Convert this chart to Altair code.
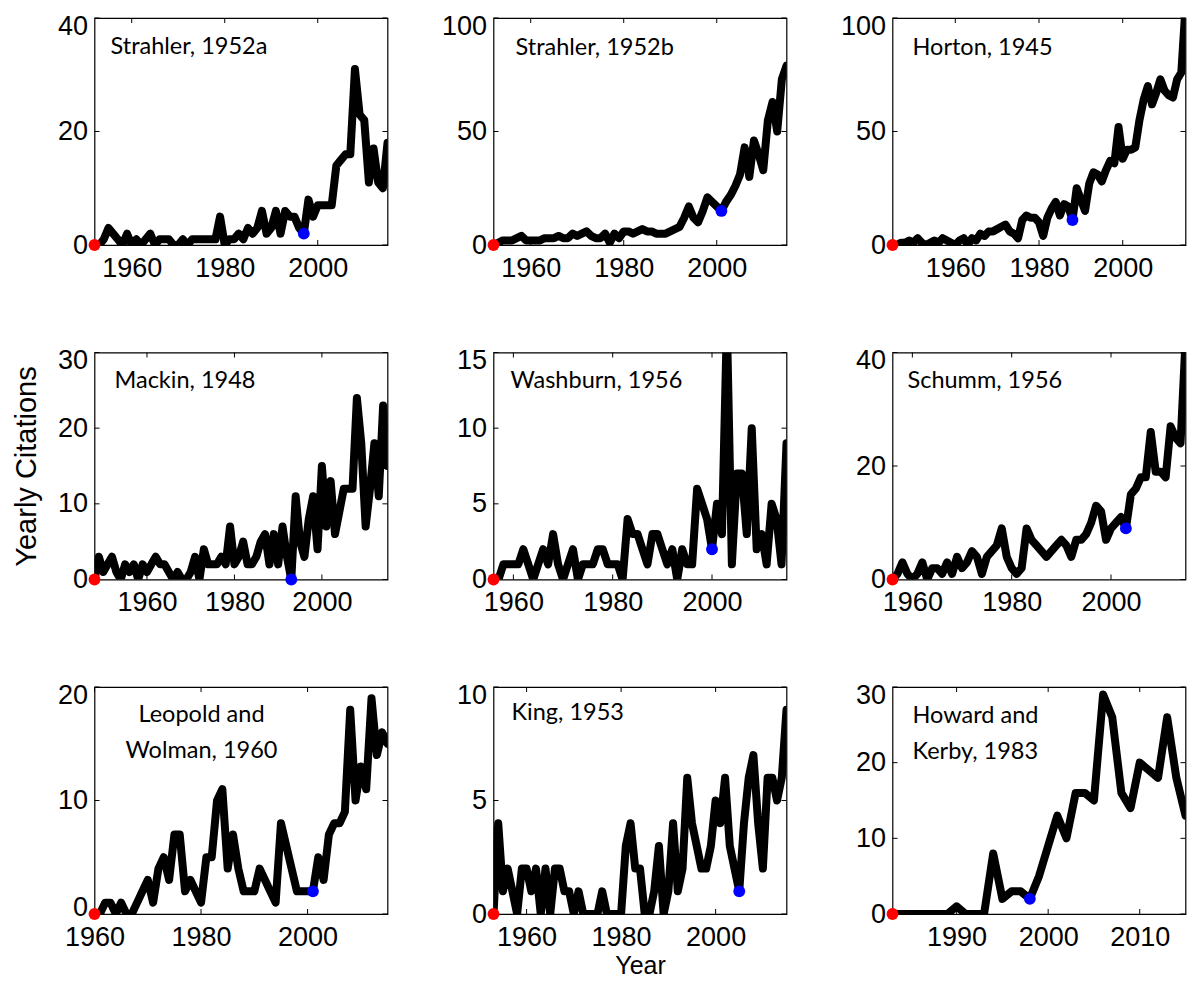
import altair as alt
import pandas as pd

# ---------------- data ----------------
TITLES = [
    "Strahler, 1952a", "Strahler, 1952b", "Horton, 1945",
    "Mackin, 1948", "Washburn, 1956", "Schumm, 1956",
    "Leopold and\nWolman, 1960", "King, 1953", "Howard and\nKerby, 1983",
]
START_YEARS = [1952, 1952, 1945, 1948, 1956, 1956, 1960, 1953, 1983]
END_YEAR = 2015
BLUE_YEARS = [1997, 2001, 1988, 1993, 2000, 2003, 2001, 2005, 1998]
Y_MAX = [40, 100, 100, 30, 15, 40, 20, 10, 30]
Y_TICKS = [[0, 20, 40], [0, 50, 100], [0, 50, 100],
           [0, 10, 20, 30], [0, 5, 10, 15], [0, 20, 40],
           [0, 10, 20], [0, 5, 10], [0, 10, 20, 30]]
X_TICKS = [[1960, 1980, 2000]] * 8 + [[1990, 2000, 2010]]

STRAHLER_1952A = [0, 0, 1, 3, 2, 1, 0, 2, 0, 1,
                  0, 1, 2, 0, 1, 1, 1, 0, 0, 1,
                  0, 1, 1, 1, 1, 1, 1, 5, 0, 1,
                  1, 2, 1, 3, 2, 3, 6, 2, 3, 6,
                  2, 6, 5, 5, 3, 2, 8, 5, 7, 7,
                  7, 7, 14, 15, 16, 16, 31, 23, 22, 11,
                  17, 11, 10, 18]
STRAHLER_1952B = [0, 1, 2, 2, 2, 3, 4, 2, 2, 2,
                  2, 3, 3, 3, 4, 3, 3, 5, 4, 5,
                  6, 4, 3, 3, 5, 1, 5, 3, 6, 6,
                  5, 6, 7, 6, 6, 5, 5, 5, 6, 7,
                  8, 12, 17, 12, 10, 15, 21, 19, 17, 15,
                  19, 22, 26, 31, 43, 30, 46, 40, 33, 55,
                  63, 50, 73, 79]
HORTON_1945 = [0, 0, 1, 1, 2, 1, 3, 1, 0, 1,
               2, 1, 3, 2, 1, 0, 2, 3, 0, 3,
               2, 5, 4, 6, 6, 7, 8, 9, 6, 5,
               3, 11, 13, 12, 12, 10, 4, 12, 16, 19,
               13, 18, 17, 11, 25, 20, 15, 27, 32, 31,
               28, 33, 37, 36, 52, 38, 42, 42, 43, 55,
               64, 70, 62, 67, 73, 68, 66, 65, 73, 76,
               105]
MACKIN_1948 = [0, 3, 1, 2, 3, 1, 0, 2, 1, 2,
               0, 2, 1, 2, 3, 2, 2, 1, 0, 1,
               0, 0, 1, 3, 0, 4, 2, 2, 2, 3,
               2, 7, 2, 3, 5, 2, 2, 3, 5, 6,
               2, 6, 2, 7, 3, 0, 11, 5, 3, 8,
               11, 4, 15, 7, 13, 6, 9, 12, 12, 12,
               24, 18, 7, 12, 18, 11, 23, 15]
WASHBURN_1956 = [0, 0, 1, 1, 1, 1, 2, 1, 0, 1,
                 2, 1, 3, 1, 0, 1, 2, 0, 1, 1,
                 1, 2, 2, 1, 1, 1, 0, 4, 3, 3,
                 2, 1, 3, 3, 2, 1, 2, 0, 2, 1,
                 1, 6, 5, 4, 2, 5, 3, 17, 1, 7,
                 7, 3, 10, 2, 3, 1, 5, 4, 1, 9]
SCHUMM_1956 = [0, 1, 3, 1, 0, 1, 3, 0, 2, 2,
               1, 3, 1, 4, 2, 3, 5, 4, 1, 4,
               5, 6, 9, 4, 2, 1, 2, 9, 7, 6,
               5, 4, 5, 6, 7, 6, 4, 7, 7, 8,
               10, 13, 12, 7, 9, 10, 11, 9, 15, 16,
               18, 18, 26, 19, 19, 18, 27, 25, 24, 42]
LEOPOLD_WOLMAN_1960 = [0, 0, 1, 1, 0, 1, 0, 0, 1, 2,
                       3, 1, 4, 5, 3, 7, 7, 2, 3, 2,
                       1, 5, 5, 10, 11, 4, 7, 4, 2, 2,
                       2, 4, 3, 2, 1, 8, 6, 4, 2, 2,
                       2, 2, 5, 3, 7, 8, 8, 9, 18, 10,
                       13, 11, 19, 14, 16, 15]
KING_1953 = [0, 4, 1, 2, 1, 0, 2, 2, 1, 2,
             0, 2, 0, 2, 2, 1, 1, 0, 1, 0,
             0, 0, 0, 1, 0, 0, 0, 0, 3, 4,
             2, 2, 0, 0, 1, 3, 0, 1, 4, 1,
             2, 6, 4, 3, 2, 2, 3, 5, 4, 6,
             3, 2, 1, 4, 6, 7, 4, 2, 6, 6,
             5, 6, 9]
HOWARD_KERBY_1983 = [0, 0, 0, 0, 0, 0, 0, 1, 0, 0,
                     0, 8, 2, 3, 3, 2, 5, 9, 13, 10,
                     16, 16, 15, 29, 26, 16, 14, 20, 19, 18,
                     26, 18, 13]

SERIES = [STRAHLER_1952A, STRAHLER_1952B, HORTON_1945,
          MACKIN_1948, WASHBURN_1956, SCHUMM_1956,
          LEOPOLD_WOLMAN_1960, KING_1953, HOWARD_KERBY_1983]

# ---------------- layout / style ----------------
W, H = 293, 227
TICK_LEN = 5
TITLE_X = [16, 22, 20, 20, 17, 15, 107, 18, 20]
TITLE_Y = [36, 37, 37, 35, 35, 35, 35, 33, 36]
TITLE_ALIGN = ["left"] * 6 + ["center", "left", "left"]
TITLE_FONT = "Lato"
AXIS_FONT = "Liberation Sans"
TOP_LABEL_SHIFT = 8        # keep the top y label inside the page
CORNER_ZERO_SHIFT = -7     # lift the "0" that sits on the corner label


def panel(i):
    vals = SERIES[i]
    start = START_YEARS[i]
    years = list(range(start, start + len(vals)))
    df = pd.DataFrame({"year": years, "cites": vals})

    xs = alt.Scale(domain=[start, END_YEAR], nice=False, zero=False)
    ys = alt.Scale(domain=[0, Y_MAX[i]], nice=False, zero=True)

    xaxis = alt.Axis(values=X_TICKS[i], format="d",
                     title="Year" if i == 7 else None)

    zero_shift = CORNER_ZERO_SHIFT if X_TICKS[i][0] == start else 0
    y_off = {
        "condition": [
            {"test": f"datum.value == {Y_MAX[i]}", "value": TOP_LABEL_SHIFT},
            {"test": "datum.value == 0", "value": zero_shift},
        ],
        "value": 0,
    }
    yaxis = alt.Axis(values=Y_TICKS[i], format="d", labelOffset=y_off,
                     title="Yearly Citations" if i == 3 else None)

    X = alt.X("year:Q", scale=xs, axis=xaxis)
    Y = alt.Y("cites:Q", scale=ys, axis=yaxis)

    line = alt.Chart(df).mark_line(
        color="black", strokeWidth=8, clip=True,
        strokeJoin="round", strokeCap="round"
    ).encode(x=X, y=Y)

    red = alt.Chart(df[df["year"] == start]).mark_point(
        filled=True, color="#ff0000", size=140, opacity=1
    ).encode(x=X, y=Y)
    blue = alt.Chart(df[df["year"] == BLUE_YEARS[i]]).mark_point(
        filled=True, color="#0000ff", size=140, opacity=1
    ).encode(x=X, y=Y)

    xt = pd.DataFrame({"year": X_TICKS[i]})
    yt = pd.DataFrame({"cites": Y_TICKS[i]})
    tick_b = alt.Chart(xt).mark_rule(color="black", strokeWidth=1).encode(
        x=X, y=alt.value(H), y2=alt.value(H - TICK_LEN))
    tick_t = alt.Chart(xt).mark_rule(color="black", strokeWidth=1).encode(
        x=X, y=alt.value(0), y2=alt.value(TICK_LEN))
    tick_l = alt.Chart(yt).mark_rule(color="black", strokeWidth=1).encode(
        y=Y, x=alt.value(0), x2=alt.value(TICK_LEN))
    tick_r = alt.Chart(yt).mark_rule(color="black", strokeWidth=1).encode(
        y=Y, x=alt.value(W - TICK_LEN), x2=alt.value(W))

    title = alt.Chart(pd.DataFrame({"t": [TITLES[i]]})).mark_text(
        font=TITLE_FONT, fontSize=23.5, color="black",
        align=TITLE_ALIGN[i], baseline="alphabetic",
        lineBreak="\n", lineHeight=36,
    ).encode(
        text="t:N",
        x=alt.value(TITLE_X[i]),
        y=alt.value(TITLE_Y[i]),
    )

    return alt.layer(line, tick_b, tick_t, tick_l, tick_r, red, blue, title).properties(
        width=W, height=H
    )


chart = alt.concat(
    *[panel(i) for i in range(9)],
    columns=3,
    spacing={"row": 107.5, "column": 106},
    bounds="flush",
).properties(
    padding={"left": 3.5, "top": 3, "right": 0, "bottom": 0},
    background="white",
).configure_view(
    stroke="black", strokeWidth=1.2
).configure_axis(
    labelFont=AXIS_FONT, labelFontSize=27, labelColor="black",
    titleFont=AXIS_FONT, titleFontSize=29, titleColor="black",
    titleFontWeight="normal",
    ticks=False, domain=False, grid=False, labelFlush=False,
).configure_axisX(
    labelPadding=10, titlePadding=3, titleFontSize=25,
).configure_axisY(
    labelPadding=7, titlePadding=16,
)

chart.save("out.html", embed_options={"renderer": "svg", "actions": False})
